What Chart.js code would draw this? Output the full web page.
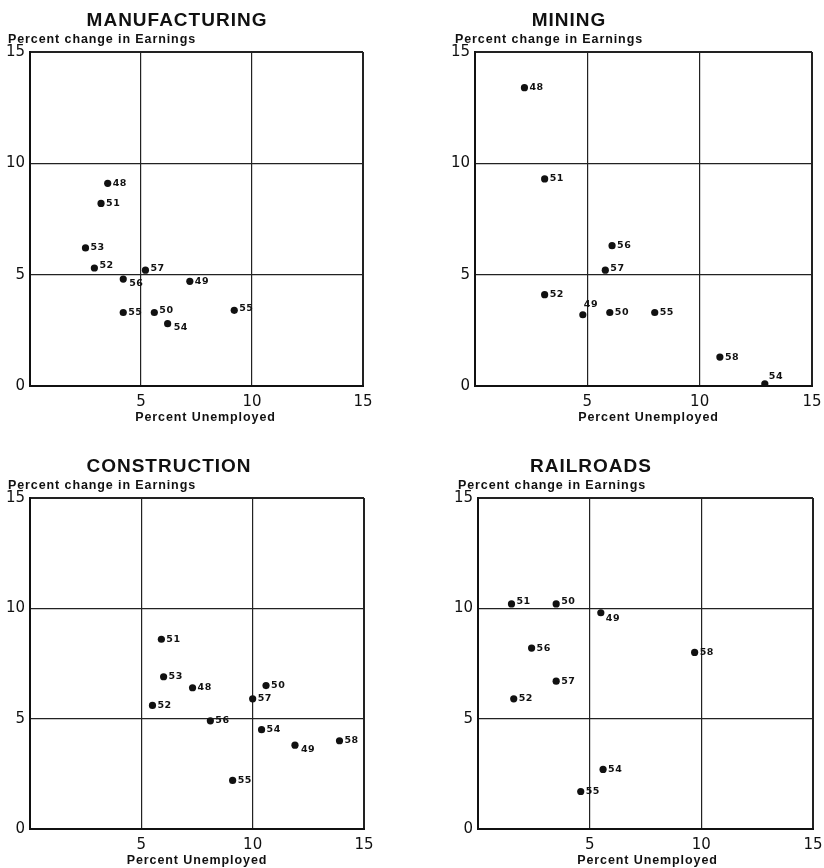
<!DOCTYPE html>
<html>
<head>
<meta charset="utf-8">
<script src="https://cdn.jsdelivr.net/npm/chart.js@4/dist/chart.umd.min.js"></script>
<style>
  html, body { margin: 0; padding: 0; background: #fff; overflow: hidden; }
  body { width: 824px; height: 868px; position: relative; }
  canvas { position: absolute; }
</style>
</head>
<body>
<canvas id="manufacturing"></canvas>
<canvas id="mining"></canvas>
<canvas id="construction"></canvas>
<canvas id="railroads"></canvas>
<script>
// Percent unemployed (x) against percent change in earnings (y), by year, 1948-58.
const axisTicks = [0, 5, 10, 15];

const manufacturingYears      = ['48', '51', '53', '52', '56', '57', '49', '55', '50', '54', '55'];
const manufacturingUnemployed = [3.5, 3.2, 2.5, 2.9, 4.2, 5.2, 7.2, 4.2, 5.6, 6.2, 9.2];
const manufacturingEarnings   = [9.1, 8.2, 6.2, 5.3, 4.8, 5.2, 4.7, 3.3, 3.3, 2.8, 3.4];
const manufacturingLabelSide  = ['r', 'r', 'r', 'ur', 'dr', 'ur', 'r', 'r', 'ur', 'dr', 'ur'];

const miningYears      = ['48', '51', '56', '57', '52', '49', '50', '55', '58', '54'];
const miningUnemployed = [2.2, 3.1, 6.1, 5.8, 3.1, 4.8, 6.0, 8.0, 10.9, 12.9];
const miningEarnings   = [13.4, 9.3, 6.3, 5.2, 4.1, 3.2, 3.3, 3.3, 1.3, 0.1];
const miningLabelSide  = ['r', 'r', 'r', 'ur', 'r', 'up', 'r', 'r', 'r', 'upr'];

const constructionYears      = ['51', '53', '48', '52', '56', '50', '57', '54', '49', '58', '55'];
const constructionUnemployed = [5.9, 6.0, 7.3, 5.5, 8.1, 10.6, 10.0, 10.4, 11.9, 13.9, 9.1];
const constructionEarnings   = [8.6, 6.9, 6.4, 5.6, 4.9, 6.5, 5.9, 4.5, 3.8, 4.0, 2.2];
const constructionLabelSide  = ['r', 'r', 'r', 'r', 'r', 'r', 'r', 'r', 'dr', 'r', 'r'];

const railroadsYears      = ['51', '50', '49', '56', '58', '57', '52', '54', '55'];
const railroadsUnemployed = [1.5, 3.5, 5.5, 2.4, 9.7, 3.5, 1.6, 5.6, 4.6];
const railroadsEarnings   = [10.2, 10.2, 9.8, 8.2, 8.0, 6.7, 5.9, 2.7, 1.7];
const railroadsLabelSide  = ['ur', 'ur', 'dr2', 'r', 'r', 'r', 'r', 'r', 'r'];

// Offsets of a year label from its dot, keyed by placement.
const LABEL_OFFSETS = {
  r:   { dx: 5, dy: 0 },
  ur:  { dx: 5, dy: -2 },
  dr:  { dx: 6, dy: 4 },
  dr2: { dx: 5, dy: 6 },
  up:  { dx: 1, dy: -10 },
  upr: { dx: 4, dy: -7 }
};

const INK = '#111';
const TICK_FONT = { family: '"DejaVu Sans", sans-serif', size: 15 };

// Draws the panel heading, the y-axis caption, the x-axis caption and the year labels.
const panelText = {
  id: 'panelText',
  afterDatasetsDraw(chart, args, opts) {
    const { ctx, chartArea } = chart;
    ctx.save();
    ctx.fillStyle = INK;
    ctx.textBaseline = 'middle';

    ctx.font = 'bold 19px "Liberation Sans", Arial, sans-serif';
    ctx.letterSpacing = '1px';
    ctx.textAlign = 'center';
    ctx.fillText(opts.title, chartArea.left + opts.titleX, chartArea.top - 31);

    ctx.font = 'bold 12.5px "Liberation Sans", Arial, sans-serif';
    ctx.letterSpacing = '0.9px';
    ctx.textAlign = 'left';
    ctx.fillText('Percent change in Earnings', chartArea.left + opts.yCaptionX, chartArea.top - 12);

    ctx.textAlign = 'center';
    ctx.fillText('Percent Unemployed', (chartArea.left + chartArea.right) / 2 + opts.xCaptionShift,
      chartArea.bottom + 32);

    ctx.font = 'bold 9.5px "DejaVu Sans", sans-serif';
    ctx.letterSpacing = '0.5px';
    ctx.textAlign = 'left';
    const meta = chart.getDatasetMeta(0);
    meta.data.forEach((pt, i) => {
      const off = LABEL_OFFSETS[opts.sides[i]] || LABEL_OFFSETS.r;
      ctx.fillText(opts.labels[i], pt.x + off.dx, pt.y + off.dy);
    });
    ctx.restore();
  }
};

function gridWidth(c) {
  const v = c.tick && c.tick.value;
  return (v === 0 || v === 15) ? 2 : 1.2;
}

function drawPanel(id, pos, title, titleX, yCaptionX, xCaptionShift, years, xs, ys, sides) {
  const canvas = document.getElementById(id);
  const rightPad = 12;
  const xAxisH = 40;
  const yAxisW = 30;
  const topPad = 52;
  const w = yAxisW + pos.plotW + rightPad;
  const h = topPad + pos.plotH + xAxisH;
  canvas.width = w;
  canvas.height = h;
  canvas.style.width = w + 'px';
  canvas.style.height = h + 'px';
  canvas.style.left = pos.left + 'px';
  canvas.style.top = pos.top + 'px';

  new Chart(canvas, {
    type: 'scatter',
    data: {
      datasets: [{
        data: xs.map((x, i) => ({ x: x, y: ys[i] })),
        backgroundColor: INK,
        borderColor: INK,
        borderWidth: 0,
        pointRadius: 3.6,
        pointHoverRadius: 3.6
      }]
    },
    options: {
      responsive: false,
      animation: false,
      devicePixelRatio: 1,
      events: [],
      layout: { padding: { left: 0, top: topPad, right: rightPad, bottom: 0 } },
      plugins: {
        legend: { display: false },
        tooltip: { enabled: false },
        panelText: { title, titleX, yCaptionX, xCaptionShift, labels: years, sides }
      },
      scales: {
        x: {
          type: 'linear',
          min: axisTicks[0],
          max: axisTicks[axisTicks.length - 1],
          afterBuildTicks(s) { s.ticks = axisTicks.map(v => ({ value: v })); },
          afterFit(s) { s.height = xAxisH; s.paddingLeft = 0; s.paddingRight = 0; },
          ticks: {
            callback: v => (v === 0 ? '' : String(v)),
            font: TICK_FONT,
            color: INK,
            padding: 7,
            maxRotation: 0,
            autoSkip: false
          },
          grid: { color: '#222', lineWidth: gridWidth, drawTicks: false },
          border: { display: true, color: INK, width: 2 }
        },
        y: {
          type: 'linear',
          min: axisTicks[0],
          max: axisTicks[axisTicks.length - 1],
          afterBuildTicks(s) { s.ticks = axisTicks.map(v => ({ value: v })); },
          afterFit(s) { s.width = yAxisW; },
          ticks: {
            callback: v => String(v),
            font: TICK_FONT,
            color: INK,
            padding: 5,
            autoSkip: false
          },
          grid: { color: '#222', lineWidth: gridWidth, drawTicks: false },
          border: { display: true, color: INK, width: 2 }
        }
      }
    },
    plugins: [panelText]
  });
}

drawPanel('manufacturing', { left: 0,   top: 0,   plotW: 333, plotH: 334 },
  'MANUFACTURING', 147, -22, 9,
  manufacturingYears, manufacturingUnemployed, manufacturingEarnings, manufacturingLabelSide);

drawPanel('mining', { left: 445, top: 0, plotW: 337, plotH: 334 },
  'MINING', 94, -20, 5,
  miningYears, miningUnemployed, miningEarnings, miningLabelSide);

drawPanel('construction', { left: 0, top: 446, plotW: 334, plotH: 331 },
  'CONSTRUCTION', 139, -22, 0,
  constructionYears, constructionUnemployed, constructionEarnings, constructionLabelSide);

drawPanel('railroads', { left: 448, top: 446, plotW: 335, plotH: 331 },
  'RAILROADS', 113, -20, 2,
  railroadsYears, railroadsUnemployed, railroadsEarnings, railroadsLabelSide);
</script>
</body>
</html>
